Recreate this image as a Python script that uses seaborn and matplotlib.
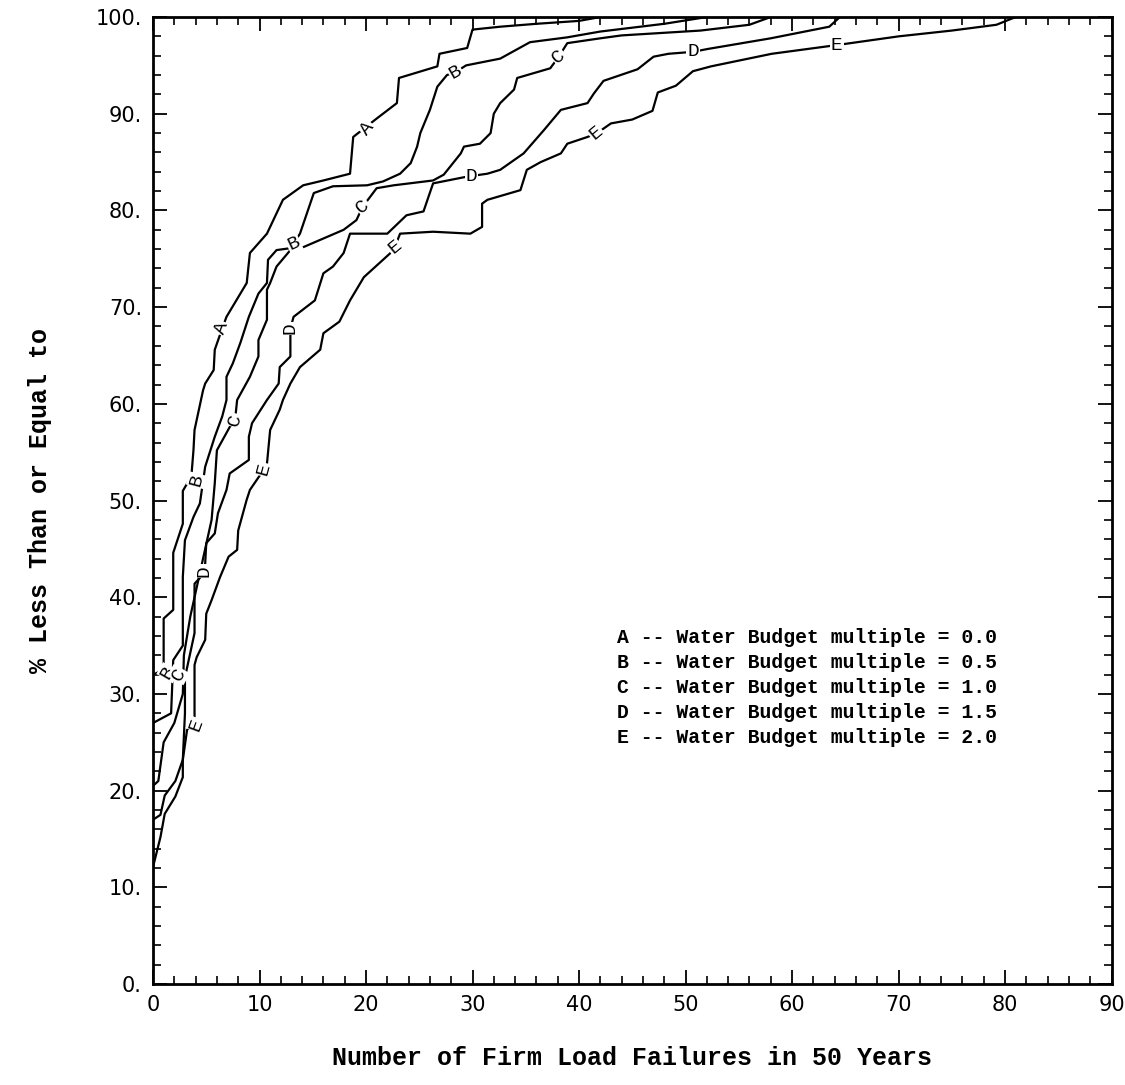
import matplotlib
matplotlib.use("Agg")
import matplotlib.pyplot as plt
from matplotlib.ticker import MultipleLocator
import seaborn as sns
import pandas as pd

# ---------------- data ----------------
A_x = [0, 1.0, 1.0, 1.9, 1.9, 2.8, 2.8, 3.6, 3.8, 3.9, 4.7, 4.9, 5.7, 5.8, 6.5, 6.9, 8.8, 9.1, 10.7, 12.2,
       14.1, 16.0, 18.5, 18.8, 21.0, 22.9, 23.1, 26.7, 26.9, 29.5, 30.0, 32.6, 36.0, 40.0, 42.0]
A_y = [32, 32.5, 37.8, 38.7, 44.6, 47.6, 51.0, 52.5, 55.2, 57.3, 61.4, 62.1, 63.5, 65.6, 67.8, 69.0, 72.5, 75.6, 77.6, 81.1,
       82.6, 83.1, 83.8, 87.6, 89.5, 91.1, 93.7, 94.9, 96.2, 96.8, 98.7, 99.0, 99.3, 99.6, 100]

B_x = [0, 1.7, 1.9, 2.8, 2.8, 3.0, 3.8, 4.4, 4.9, 5.8, 6.5, 6.9, 6.9, 7.5, 8.2, 9.0, 9.9, 10.7, 10.8, 11.6,
       12.9, 13.8, 15.1, 16.9, 20.1, 21.6, 23.2, 24.2, 24.8, 25.1, 26.0, 26.7, 27.6, 28.4, 29.4, 32.6, 35.4, 38.9, 42.0, 48.0,
       52.0]
B_y = [27, 28, 33.5, 35, 42.1, 45.9, 48.3, 49.7, 53.5, 56.6, 58.7, 60.4, 62.8, 64.2, 66.3, 69.0, 71.4, 72.5, 74.9, 75.9,
       76.1, 77.6, 81.8, 82.5, 82.6, 83.0, 83.8, 84.9, 86.6, 88.0, 90.4, 92.8, 94.0, 94.3, 95.0, 95.7, 97.4, 97.9, 98.5, 99.3,
       100]

C_x = [0, 0.5, 1.0, 2.0, 2.8, 2.9, 3.5, 4.2, 4.9, 5.5, 5.8, 6.0, 7.2, 7.7, 7.9, 9.1, 9.9, 9.9, 10.7, 10.7,
       11.0, 11.6, 12.9, 14.1, 16.0, 17.9, 19.1, 19.7, 21.0, 22.6, 26.3, 27.3, 28.9, 29.2, 30.7, 31.7, 32.0, 32.6, 33.9, 34.2,
       37.3, 38.1, 38.9, 42.0, 44.0, 51.4, 56.0, 58.0]
C_y = [20.5, 21, 25, 27, 30, 34, 38, 41.5, 45, 48, 51.8, 55.2, 57.6, 58.3, 60.4, 62.8, 64.9, 66.6, 68.7, 71.8,
       72.5, 74.2, 75.9, 76.2, 77.1, 78.0, 79.0, 80.4, 82.3, 82.6, 83.1, 83.7, 85.9, 86.6, 86.9, 88.0, 90.0, 91.1, 92.5, 93.7,
       94.7, 95.9, 97.3, 97.8, 98.1, 98.6, 99.2, 100]

D_x = [0, 0.7, 1.1, 2.1, 2.8, 3.0, 3.0, 3.9, 3.9, 4.9, 4.9, 5.0, 5.8, 6.1, 6.9, 7.2, 9.0, 9.0, 9.3, 10.7,
       11.8, 11.9, 12.9, 12.9, 13.2, 15.2, 16.0, 16.9, 17.9, 18.5, 22.0, 23.8, 25.4, 26.3, 29.5, 31.4, 32.6, 34.8, 36.7, 38.3,
       40.8, 41.4, 42.3, 45.5, 47.0, 48.4, 50.7, 52.1, 58.0, 63.5, 64.5]
D_y = [17, 17.5, 19.5, 21, 23.2, 28, 31.7, 36.3, 41.4, 42.6, 43.5, 45.6, 46.6, 48.7, 51.1, 52.8, 54.2, 56.6, 58.0, 60.4,
       62.1, 63.8, 64.9, 67.8, 69.0, 70.7, 73.5, 74.2, 75.6, 77.6, 77.6, 79.5, 79.9, 82.8, 83.5, 83.8, 84.2, 85.9, 88.3, 90.4,
       91.1, 92.1, 93.4, 94.6, 95.9, 96.2, 96.4, 96.7, 97.8, 99.0, 100]

E_x = [0, 0.7, 1.1, 2.1, 2.8, 2.8, 3.2, 3.9, 3.9, 4.1, 4.9, 5.0, 5.5, 6.3, 7.1, 7.9, 8.0, 8.8, 9.1, 10.4,
       10.7, 11.0, 11.9, 12.2, 12.9, 13.8, 15.7, 16.0, 17.5, 18.5, 19.8, 22.3, 22.7, 23.2, 26.3, 29.8, 30.9, 30.9, 31.4, 34.5,
       35.1, 36.4, 38.3, 38.9, 40.8, 41.7, 43.0, 45.0, 46.9, 47.4, 49.1, 50.7, 52.4, 58.1, 64.2, 70.0, 75.0, 79.2, 81.0]
E_y = [12.1, 15.2, 17.6, 19.4, 21.4, 23.2, 26.3, 27.0, 33.0, 33.8, 35.6, 38.3, 39.7, 42.1, 44.2, 44.9, 46.9, 50.1, 51.1, 53.2,
       53.8, 57.3, 59.4, 60.4, 62.1, 63.8, 65.6, 67.3, 68.5, 70.7, 73.1, 75.6, 76.2, 77.6, 77.8, 77.6, 78.3, 80.7, 81.1, 82.1,
       84.2, 85.0, 85.9, 86.9, 87.6, 88.0, 89.0, 89.4, 90.3, 92.2, 92.9, 94.4, 94.9, 96.2, 97.1, 98.0, 98.6, 99.2, 100]

curve_names = ["A", "B", "C", "D", "E"]
curve_x = [A_x, B_x, C_x, D_x, E_x]
curve_y = [A_y, B_y, C_y, D_y, E_y]

# labels written along the curves: letter, x, y, angle
label_letters = ["A", "A", "B", "B", "B", "B", "C", "C", "C", "C", "D", "D", "D", "D", "E", "E", "E", "E", "E"]
label_x = [6.5, 20.1, 1.4, 4.1, 13.2, 28.4, 2.4, 7.7, 19.7, 38.1, 4.8, 12.9, 29.9, 50.7, 4.1, 10.4, 22.7, 41.6, 64.2]
label_y = [67.8, 88.5, 32.2, 52.1, 76.6, 94.3, 32.0, 58.3, 80.4, 95.9, 42.7, 67.8, 83.5, 96.4, 26.8, 53.2, 76.2, 88.0, 97.1]
label_rot = [70, 50, 60, 75, 25, 30, 60, 75, 40, 40, 90, 90, 0, 0, 70, 75, 40, 40, 0]

legend_lines = [
    "A -- Water Budget multiple = 0.0",
    "B -- Water Budget multiple = 0.5",
    "C -- Water Budget multiple = 1.0",
    "D -- Water Budget multiple = 1.5",
    "E -- Water Budget multiple = 2.0",
]

x_ticks = [0, 10, 20, 30, 40, 50, 60, 70, 80, 90]
x_tick_labels = ["0", "10", "20", "30", "40", "50", "60", "70", "80", "90"]
y_ticks = [0, 10, 20, 30, 40, 50, 60, 70, 80, 90, 100]
y_tick_labels = ["0.", "10.", "20.", "30.", "40.", "50.", "60.", "70.", "80.", "90.", "100."]

# ---------------- plot ----------------
sns.set_style("ticks")
plt.rcParams["font.family"] = ["DejaVu Sans"]
plt.rcParams["text.color"] = "black"
plt.rcParams["axes.labelcolor"] = "black"
plt.rcParams["xtick.color"] = "black"
plt.rcParams["ytick.color"] = "black"

rows = []
for name, xs, ys in zip(curve_names, curve_x, curve_y):
    for i, (xv, yv) in enumerate(zip(xs, ys)):
        rows.append({"curve": name, "order": i, "x": xv, "y": yv})
df = pd.DataFrame(rows)

fig = plt.figure(figsize=(11.25, 10.85), dpi=100)
ax = fig.add_axes([0.136, 0.093, 0.852, 0.8913])

sns.lineplot(data=df, x="x", y="y", hue="curve", palette={n: "black" for n in curve_names},
             estimator=None, sort=False, legend=False, linewidth=1.6, ax=ax)

for t, xv, yv, r in zip(label_letters, label_x, label_y, label_rot):
    ax.text(xv, yv, t, rotation=r, ha="center", va="center", fontsize=14,
            family="Liberation Mono", color="black", zorder=5,
            bbox=dict(boxstyle="square,pad=0.05", fc="white", ec="none"))

legend_y0 = 35.8
for i, line in enumerate(legend_lines):
    ax.text(43.6, legend_y0 - i * 2.57, line, ha="left", va="center", fontsize=14.2,
            family="Liberation Mono", fontweight="bold", color="black")

ax.set_xlim(0, 90)
ax.set_ylim(0, 100)
ax.set_xticks(x_ticks)
ax.set_xticklabels(x_tick_labels, fontsize=15, color="black")
ax.set_yticks(y_ticks)
ax.set_yticklabels(y_tick_labels, fontsize=15, color="black")
ax.xaxis.set_minor_locator(MultipleLocator(2))
ax.yaxis.set_minor_locator(MultipleLocator(2))
ax.tick_params(which="both", direction="in", top=True, right=True, color="black")
ax.tick_params(which="major", length=10, width=1.3, pad=8)
ax.tick_params(which="minor", length=6, width=1.2)
for s in ax.spines.values():
    s.set_linewidth(2.0)
    s.set_color("black")

ax.set_xlabel("Number of Firm Load Failures in 50 Years", fontsize=18, family="Liberation Mono",
              fontweight="bold", color="black")
ax.set_ylabel("% Less Than or Equal to", fontsize=18, family="Liberation Mono",
              fontweight="bold", color="black")
ax.xaxis.set_label_coords(0.5, -0.0765)
ax.xaxis.label.set_va("center")
ax.yaxis.set_label_coords(-0.118, 0.5)
ax.yaxis.label.set_va("center")

fig.savefig("out.png", dpi=100, facecolor="white")
